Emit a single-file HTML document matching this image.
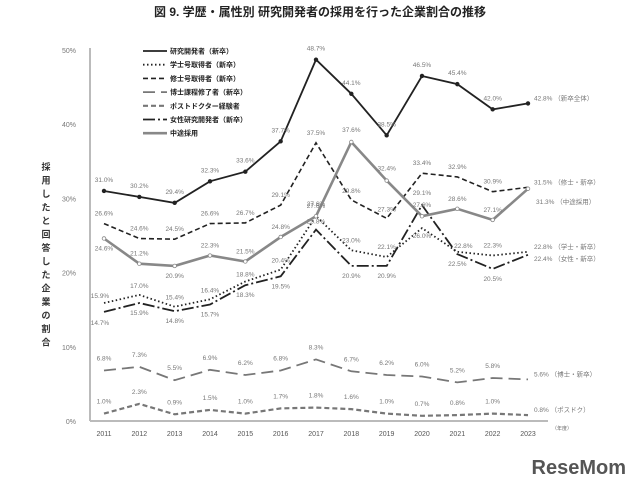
<!DOCTYPE html>
<html><head><meta charset="utf-8">
<style>
html,body{margin:0;padding:0;background:#fff;}
svg{display:block;font-family:"Liberation Sans","Noto Sans CJK JP",sans-serif;}
</style></head>
<body>
<svg id="chart" width="640" height="488" viewBox="0 0 640 488">
<text x="320" y="16" text-anchor="middle" font-size="12" fill="#222" font-weight="bold">図 9. 学歴・属性別 研究開発者の採用を行った企業割合の推移</text>
<g id="yaxis-title" font-size="9" fill="#333" font-weight="bold"></g>
<g id="axes"></g>
<g id="series"></g>
<g id="legend"></g>
<text x="626" y="474" text-anchor="end" font-size="20" font-weight="bold" fill="#555">ReseMom</text>
</svg>
<script>
const years = ["2011","2012","2013","2014","2015","2016","2017","2018","2019","2020","2021","2022","2023"];
const yTicks = [0,10,20,30,40,50];
const researchNew = [31.0,30.2,29.4,32.3,33.6,37.7,48.7,44.1,38.5,46.5,45.4,42.0,42.8];
const bachelor = [15.9,17.0,15.4,16.4,18.8,20.4,27.6,23.0,22.1,26.0,22.8,22.3,22.8];
const master = [26.6,24.6,24.5,26.6,26.7,29.1,37.5,29.8,27.3,33.4,32.9,30.9,31.5];
const doctor = [6.8,7.3,5.5,6.9,6.2,6.8,8.3,6.7,6.2,6.0,5.2,5.8,5.6];
const postdoc = [1.0,2.3,0.9,1.5,1.0,1.7,1.8,1.6,1.0,0.7,0.8,1.0,0.8];
const female = [14.7,15.9,14.8,15.7,18.3,19.5,25.8,20.9,20.9,29.1,22.5,20.5,22.4];
const midCareer = [24.6,21.2,20.9,22.3,21.5,24.8,27.6,37.6,32.4,27.6,28.6,27.1,31.3];
const legendLabels = ["研究開発者（新卒）","学士号取得者（新卒）","修士号取得者（新卒）","博士課程修了者（新卒）","ポストドクター経験者","女性研究開発者（新卒）","中途採用"];
const endLabels = ["（新卒全体）","（学士・新卒）","（修士・新卒）","（博士・新卒）","（ポスドク）","（女性・新卒）","（中途採用）"];

const NS="http://www.w3.org/2000/svg";
const X0=104, X1=528, Y0=421, Y1=50;
const xs=i=>X0+(X1-X0)*i/(years.length-1);
const ys=v=>Y0-(Y0-Y1)*v/50;
function mk(tag,attrs,parent){const e=document.createElementNS(NS,tag);for(const k in attrs)e.setAttribute(k,attrs[k]);parent.appendChild(e);return e;}
const axes=document.getElementById('axes');
const line1=mk('line',{x1:90,y1:48,x2:90,y2:Y0,stroke:'#bbb','stroke-width':2},axes);


const line2=mk('line',{x1:90,y1:Y0,x2:548,y2:Y0,stroke:'#bbb','stroke-width':2},axes);


yTicks.forEach(t=>{const e=mk('text',{x:76,y:ys(t)+3,'text-anchor':'end','font-size':7,fill:'#777'},axes);e.textContent=t+'%';

});
years.forEach((y,i)=>{const e=mk('text',{x:xs(i),y:436,'text-anchor':'middle','font-size':7,fill:'#555'},axes);e.textContent=y;

});
const unit=mk('text',{x:552,y:430,'font-size':5,fill:'#666'},axes);unit.textContent='（年度）';


const yt=document.getElementById('yaxis-title');
"採用したと回答した企業の割合".split('').forEach((c,i)=>{const e=mk('text',{x:46,y:170+i*13.5,'text-anchor':'middle'},yt);e.textContent=c;});

const specs=[
 {d:researchNew,c:'#222',w:1.8,da:'',mark:true,name:'research-new',lab:[[0,-9],[0,-9],[0,-9],[0,-9],[0,-9],[0,-9],[0,-9],[0,-9],[0,-9],[0,-9],[0,-9],[0,-9],[20,-3]],end:0},
 {d:bachelor,c:'#222',w:1.8,da:'1.5 2.5',name:'bachelor',lab:[[-4,-5],[0,-7],[0,-7],[0,-7],[0,-5],[0,-7],[0,-10],[0,-8],[0,-8],[0,10],[6,-4],[0,-8],[20,-3]],end:1},
 {d:master,c:'#222',w:1.6,da:'5 3',name:'master',lab:[[0,-8],[0,-8],[0,-8],[0,-8],[0,-8],[0,-8],[0,-8],[0,-7],[0,-7],[0,-8],[0,-8],[0,-8],[20,-3]],end:2},
 {d:doctor,c:'#777',w:1.8,da:'12 6',name:'doctor',lab:[[0,-10],[0,-10],[0,-10],[0,-10],[0,-10],[0,-10],[0,-10],[0,-10],[0,-10],[0,-10],[0,-10],[0,-10],[20,-3]],end:3},
 {d:postdoc,c:'#777',w:2.2,da:'5 3',name:'postdoc',lab:[[0,-10],[0,-10],[0,-10],[0,-10],[0,-10],[0,-10],[0,-10],[0,-10],[0,-10],[0,-10],[0,-10],[0,-10],[20,-3]],end:4},
 {d:female,c:'#222',w:1.8,da:'12 3 2 3',name:'female',lab:[[-4,13],[0,12],[0,12],[0,12],[0,12],[0,12],[0,-6],[0,12],[0,12],[0,-10],[0,12],[0,12],[20,6]],end:5},
 {d:midCareer,c:'#888',w:2.6,da:'',mark:true,name:'mid-career',lab:[[0,12],[0,-8],[0,12],[0,-8],[0,-8],[0,-8],[0,-8],[0,-10],[0,-10],[0,-9],[0,-8],[0,-8],[22,15]],end:6}
];
const sg=document.getElementById('series');
specs.forEach(s=>{
 const p=s.d.map((v,i)=>(i?'L':'M')+xs(i).toFixed(1)+','+ys(v).toFixed(1)).join('');
 const path=mk('path',{d:p,fill:'none',stroke:s.c,'stroke-width':s.w,'stroke-dasharray':s.da},sg);
 
 
 if(s.mark)s.d.forEach((v,i)=>{const m=mk('circle',{cx:xs(i),cy:ys(v),r:1.8,fill:s.name==='mid-career'?'#fff':'#222',stroke:s.c,'stroke-width':0.8},sg);
 
 });
 s.d.forEach((v,i)=>{const o=s.lab[i];const last=i===s.d.length-1;
  const t=mk('text',{x:xs(i)+o[0]-(last?14:0),y:ys(v)+o[1],'text-anchor':last?'start':'middle','font-size':6.5,fill:'#777'},sg);
  t.textContent=v.toFixed(1)+'%'+(last?' '+endLabels[s.end]:'');
  
  });
});
const lg=document.getElementById('legend');
specs.forEach((s,i)=>{const y=51+i*13.7;
 const l=mk('line',{x1:143,y1:y,x2:167,y2:y,stroke:s.c,'stroke-width':s.w,'stroke-dasharray':s.da},lg);
 
 
 const t=mk('text',{x:170,y:y+2.5,'font-size':7,fill:'#222','font-weight':'bold'},lg);t.textContent=legendLabels[i];
 
 });
</script>
</body></html>
